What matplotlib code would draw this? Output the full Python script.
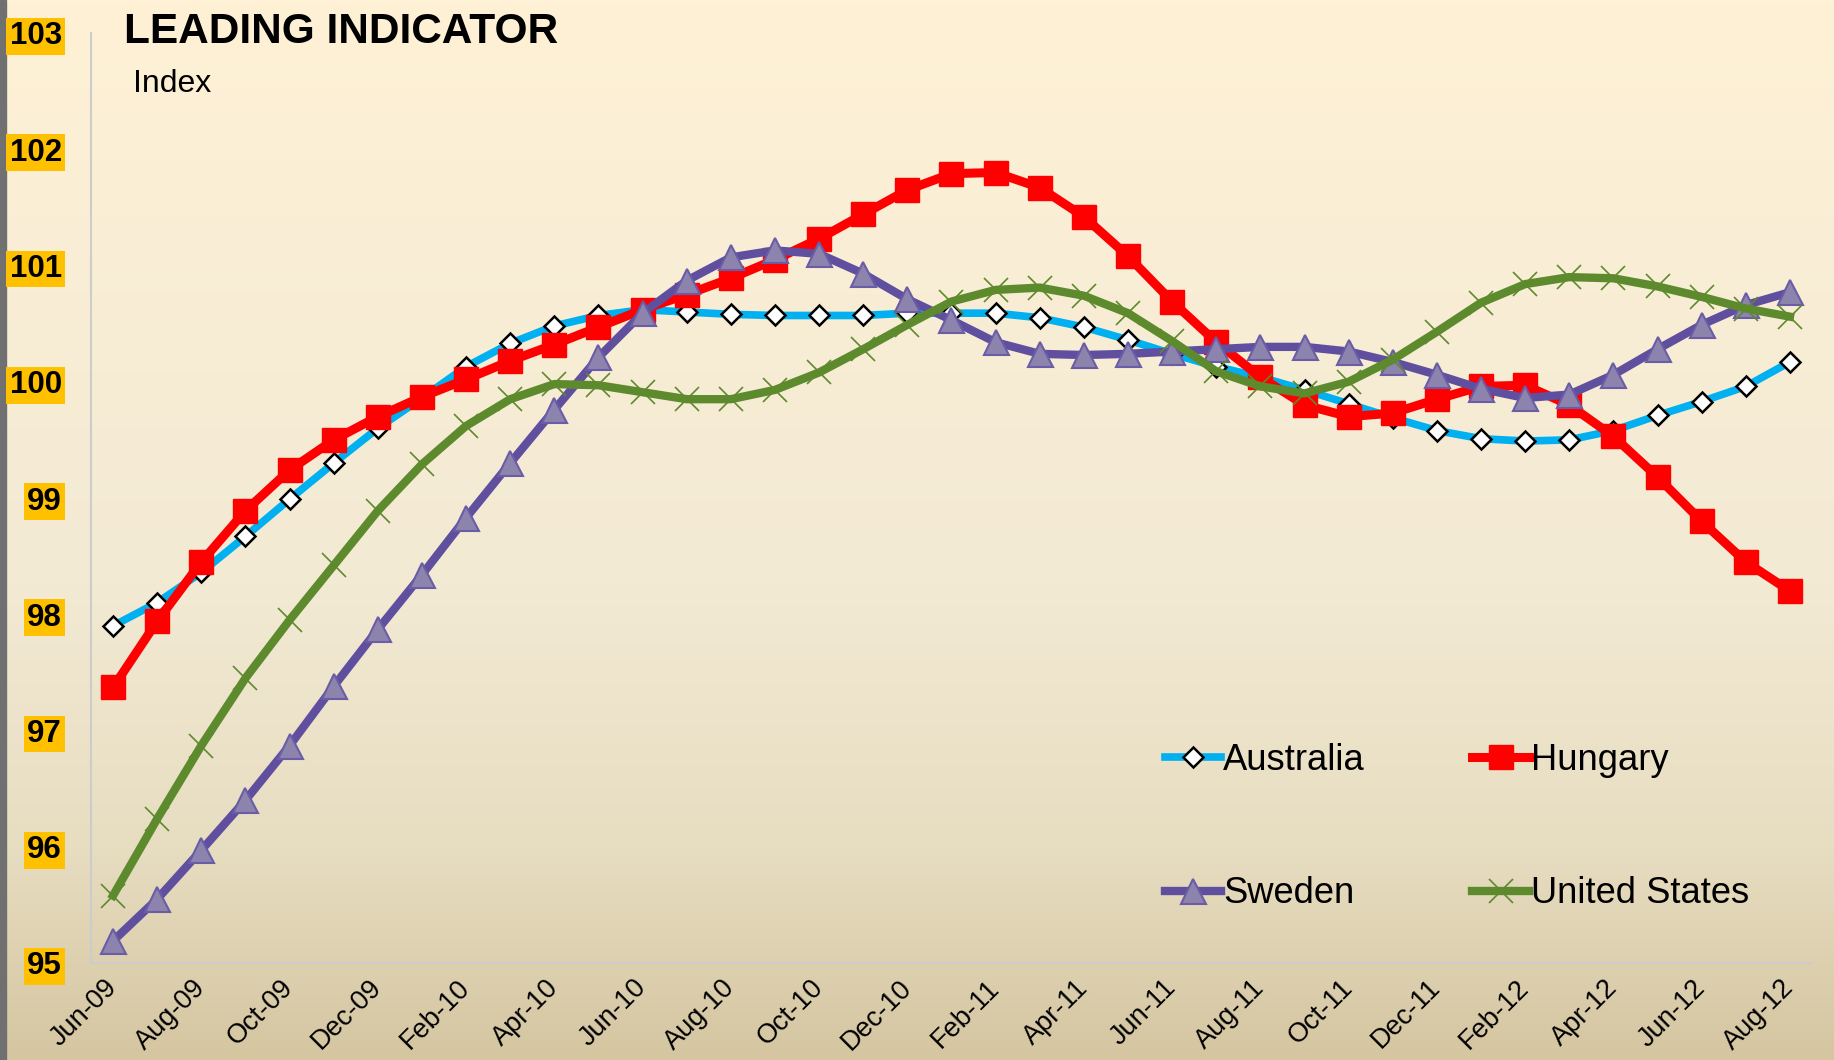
import matplotlib
matplotlib.use("Agg")
import matplotlib.pyplot as plt
import numpy as np
from matplotlib.colors import LinearSegmentedColormap

plt.rcParams["font.family"] = ["Liberation Sans", "DejaVu Sans"]

# Monthly leading indicator, Jun-09 .. Aug-12
months = ["Jun-09", "Jul-09", "Aug-09", "Sep-09", "Oct-09", "Nov-09", "Dec-09",
          "Jan-10", "Feb-10", "Mar-10", "Apr-10", "May-10", "Jun-10", "Jul-10",
          "Aug-10", "Sep-10", "Oct-10", "Nov-10", "Dec-10", "Jan-11", "Feb-11",
          "Mar-11", "Apr-11", "May-11", "Jun-11", "Jul-11", "Aug-11", "Sep-11",
          "Oct-11", "Nov-11", "Dec-11", "Jan-12", "Feb-12", "Mar-12", "Apr-12",
          "May-12", "Jun-12", "Jul-12", "Aug-12"]

australia = [97.90, 98.10, 98.36, 98.67, 98.99, 99.30, 99.60, 99.86, 100.13, 100.33,
             100.48, 100.57, 100.62, 100.60, 100.58, 100.57, 100.57, 100.57, 100.59,
             100.59, 100.59, 100.55, 100.47, 100.36, 100.24, 100.13, 100.04, 99.93,
             99.81, 99.69, 99.58, 99.51, 99.49, 99.50, 99.58, 99.71, 99.83, 99.96, 100.17]

hungary = [97.37, 97.94, 98.45, 98.89, 99.24, 99.50, 99.70, 99.87, 100.02, 100.18,
           100.32, 100.47, 100.62, 100.75, 100.89, 101.05, 101.23, 101.44, 101.65,
           101.79, 101.80, 101.67, 101.42, 101.08, 100.69, 100.34, 100.04, 99.80,
           99.70, 99.73, 99.85, 99.96, 99.97, 99.80, 99.53, 99.18, 98.80, 98.45, 98.20]

sweden = [95.19, 95.55, 95.97, 96.40, 96.87, 97.38, 97.87, 98.34, 98.83, 99.30,
          99.76, 100.21, 100.59, 100.87, 101.07, 101.13, 101.10, 100.93, 100.71,
          100.53, 100.34, 100.24, 100.23, 100.24, 100.26, 100.28, 100.30, 100.30,
          100.26, 100.17, 100.06, 99.94, 99.86, 99.89, 100.06, 100.28, 100.49, 100.66, 100.77]

united_states = [95.58, 96.24, 96.87, 97.45, 97.95, 98.42, 98.89, 99.29, 99.62, 99.85,
                 99.98, 99.97, 99.91, 99.85, 99.85, 99.93, 100.08, 100.28, 100.49,
                 100.69, 100.79, 100.81, 100.74, 100.59, 100.35, 100.09, 99.96, 99.90,
                 100.00, 100.19, 100.43, 100.68, 100.84, 100.90, 100.89, 100.82, 100.73,
                 100.63, 100.56]

yticks = [95, 96, 97, 98, 99, 100, 101, 102, 103]

x = np.arange(len(months))

fig = plt.figure(figsize=(18.34, 10.6), dpi=100)

# background gradient (cream at top to tan at bottom)
bg = fig.add_axes([0, 0, 1, 1], zorder=-10)
grad = LinearSegmentedColormap.from_list(
    "bg", [(0.0, "#FEF1D6"), (0.55, "#F3EAD4"), (0.8, "#E7DDC1"), (1.0, "#D5C6A1")])
bg.imshow(np.linspace(0, 1, 256).reshape(-1, 1), aspect="auto", cmap=grad,
          extent=[0, 1, 0, 1])
bg.add_patch(plt.Rectangle((0, 0), 6 / 1834, 1, color="#707070"))
bg.set_xlim(0, 1)
bg.set_ylim(0, 1)
bg.axis("off")

ax = fig.add_axes([91 / 1834, 1 - 963 / 1060, (1812 - 91) / 1834, (963 - 33) / 1060])
ax.patch.set_alpha(0)

la, = ax.plot(x, australia, color="#00B0F0", lw=5.5, marker="D", ms=10.5,
              mfc="white", mec="black", mew=1.8, label="Australia")
lh, = ax.plot(x, hungary, color="#FF0000", lw=6.5, marker="s", ms=17,
              mfc="#FF0000", mec="#FF0000", label="Hungary")
ls, = ax.plot(x, sweden, color="#5F4F9E", lw=6, marker="^", ms=18,
              mfc="#8C84AC", mec="#6A5CA6", mew=1.5, label="Sweden")
lu, = ax.plot(x, united_states, color="#5E8A2E", lw=6, marker="x", ms=17,
              mec="#5E8A2E", mew=1.2, label="United States")

ax.set_xlim(-0.5, len(months) - 0.5)
ax.set_ylim(95, 103)
ax.set_yticks(yticks)
ax.set_yticklabels([str(v) for v in yticks], fontsize=22.5, fontweight="bold")
for t in ax.get_yticklabels():
    t.set_bbox(dict(facecolor="#FFC000", edgecolor="none", pad=2.5))
ax.tick_params(axis="y", length=0, pad=21)

ax.set_xticks(x[::2])
ax.set_xticklabels(months[::2], fontsize=19.5, rotation=45, ha="right",
                   va="center", rotation_mode="anchor")
ax.tick_params(axis="x", length=0, pad=15)

for side in ["top", "right"]:
    ax.spines[side].set_visible(False)
for side in ["left", "bottom"]:
    ax.spines[side].set_color("#CCCCCC")
    ax.spines[side].set_linewidth(1.5)

fig.text(124 / 1834, 1 - 43 / 1060, "LEADING INDICATOR", fontsize=30.5,
         fontweight="bold", va="baseline")
fig.text(133 / 1834, 1 - 92 / 1060, "Index", fontsize=23, va="baseline")

ax.legend(handles=[la, ls, lh, lu], ncol=2, loc="upper left",
          bbox_to_anchor=(1165 / 1834, 1 - 743 / 1060), bbox_transform=fig.transFigure,
          frameon=False, fontsize=26.2, handlelength=1.55, handletextpad=0.05,
          labelspacing=2.7, columnspacing=2.95, borderpad=0, borderaxespad=0,
          numpoints=1)

fig.savefig("out.png", dpi=100)
